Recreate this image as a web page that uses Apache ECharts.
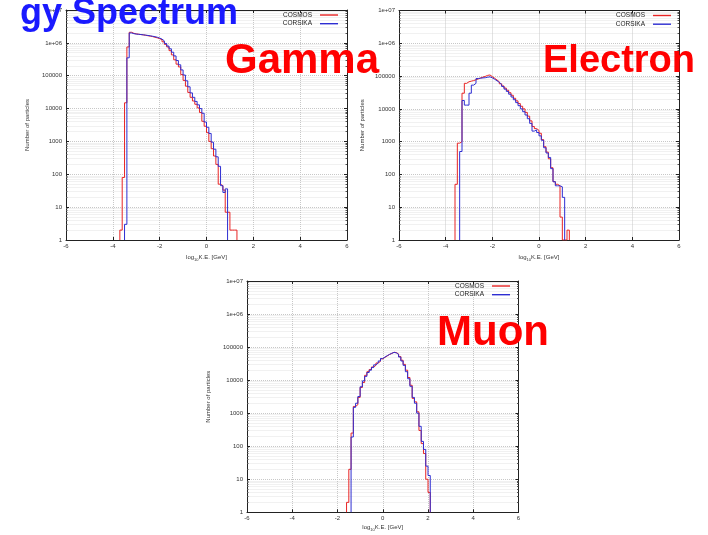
<!DOCTYPE html>
<html>
<head>
<meta charset="utf-8">
<title>Energy Spectrum</title>
<script src="https://cdn.jsdelivr.net/npm/echarts@6/dist/echarts.min.js"></script>
<style>
  html, body { margin: 0; padding: 0; background: #fff; }
  #main { width: 708px; height: 535px; }
</style>
</head>
<body>
<div id="main"></div>
<script>
// histograms, 0.1 wide bins in log10(K.E.), counts per bin
var binWidth = 0.1
var xTicks = [-6, -4, -2, 0, 2, 4, 6]
var yTickLabels = ['1', '10', '100', '1000', '10000', '100000', '1e+06', '1e+07']
var seriesNames = ['COSMOS', 'CORSIKA']

// Gamma
var gammaCosmosStart = -3.7
var gammaCosmos = [2, 80, 15000, 750000, 2100000, 1950000, 1880000, 1830000, 1790000, 1750000,
  1700000, 1650000, 1600000, 1550000, 1480000, 1420000, 1340000, 1250000, 1080000, 900000,
  750000, 580000, 430000, 305000, 225000, 185000, 108000, 72000, 48000, 31000,
  22000, 17000, 13500, 10500, 7600, 4100, 2900, 1850, 1000, 600,
  360, 200, 50, 45, 33, 7, 7, 2, 2, 2]
var gammaCorsikaStart = -3.5
var gammaCorsika = [3, 350000, 2000000, 1900000, 1850000, 1820000, 1790000, 1760000, 1720000, 1680000,
  1640000, 1590000, 1540000, 1480000, 1400000, 1300000, 1150000, 960000, 800000, 660000,
  520000, 400000, 290000, 215000, 150000, 105000, 70000, 46000, 30000, 22000,
  16500, 13000, 10000, 7200, 3900, 2700, 1750, 950, 580, 340,
  175, 45, 28, 36]

// Electron
var electronCosmosStart = -3.6
var electronCosmos = [50, 900, 1000, 30000, 60000, 67000, 70000, 73000, 77000, 82000,
  88000, 93000, 98000, 105000, 108000, 96000, 86000, 76000, 67000, 58000,
  50000, 43000, 37000, 31000, 26000, 21000, 17500, 14500, 12000, 10000,
  7800, 6000, 4300, 2900, 2500, 2200, 1800, 1150, 700, 480,
  300, 160, 60, 50, 45, 5, 1, 1, 2]
var electronCorsikaStart = -3.4
var electronCorsika = [500, 18000, 13000, 13000, 30000, 53000, 60000, 84000, 86000, 88000,
  89000, 92000, 95000, 88000, 80000, 72000, 64000, 56000, 48000, 40000,
  34000, 28000, 23000, 19000, 15500, 12500, 10000, 8200, 6500, 5000,
  3600, 2100, 2300, 1900, 1500, 1100, 650, 450, 330, 150,
  60, 45, 45, 42, 20]

// Muon
var muonCosmosStart = -1.6
var muonCosmos = [2, 20, 250, 1600, 1800, 3000, 6000, 8500, 14000, 18000,
  21000, 25000, 28000, 33000, 37000, 44000, 49000, 54000, 60000, 64000,
  70000, 68000, 62000, 52000, 40000, 30000, 20000, 12000, 7000, 2800,
  2200, 1100, 300, 120, 60, 10, 4]
var muonCorsikaStart = -1.4
var muonCorsika = [190, 1500, 2000, 3200, 6300, 9500, 13000, 17000, 20000, 24000,
  29000, 33000, 38000, 45000, 50000, 55000, 60000, 65000, 69000, 67000,
  60000, 50000, 38000, 28000, 18000, 11000, 6500, 3000, 2000, 1000,
  400, 140, 80, 25, 13]

var panels = [
  { title: 'Gamma', cosmos: [gammaCosmosStart, gammaCosmos], corsika: [gammaCorsikaStart, gammaCorsika] },
  { title: 'Electron', cosmos: [electronCosmosStart, electronCosmos], corsika: [electronCorsikaStart, electronCorsika] },
  { title: 'Muon', cosmos: [muonCosmosStart, muonCosmos], corsika: [muonCorsikaStart, muonCorsika] }
]

var font = 'Liberation Sans, Arial, sans-serif'
var cosmosColor = '#e82424'
var corsikaColor = '#2e2ed2'

var grids = [
  { left: 66, top: 10, width: 281, height: 230 },
  { left: 399, top: 10.5, width: 280, height: 229.5 },
  { left: 247, top: 281, width: 271.5, height: 231.3 }
]
var yNameGap = [36, 34, 36]
var xNameGap = [13.5, 13.5, 11.5]
var legendPos = [
  { right: 370, top: 11.5 },
  { right: 37, top: 12 },
  { right: 198, top: 282.5 }
]

// bin edges -> step line points, closed down to the axis at both ends
function steps (start, counts) {
  var pts = [[start, 1]]
  counts.forEach(function (c, i) {
    pts.push([+(start + i * binWidth).toFixed(2), c])
  })
  pts.push([+(start + counts.length * binWidth).toFixed(2), 1])
  return pts
}

var axisText = { fontSize: 6, color: '#333', fontFamily: font }
var boxLine = { show: true, onZero: false, lineStyle: { color: '#222', width: 1 } }
var majorTick = { inside: true, length: 3, lineStyle: { color: '#222' } }
var minorTick = { show: true, splitNumber: 9, length: 1.5, lineStyle: { color: '#555' } }
var gridLine = { show: true, lineStyle: { color: '#c8c8c8', type: 'dotted', width: 1 } }

var xAxis = []
var yAxis = []
var series = []
var legend = []

grids.forEach(function (g, i) {
  xAxis.push({
    gridIndex: i,
    type: 'value',
    position: 'bottom',
    min: xTicks[0],
    max: xTicks[xTicks.length - 1],
    interval: xTicks[1] - xTicks[0],
    axisLine: boxLine,
    axisTick: majorTick,
    axisLabel: Object.assign({ margin: 3.5 }, axisText),
    splitLine: gridLine,
    name: '{a|log}{s|10}{a|K.E. [GeV]}',
    nameLocation: 'middle',
    nameGap: xNameGap[i],
    nameTextStyle: {
      verticalAlign: 'top',
      rich: {
        a: { fontSize: 6, color: '#333', fontFamily: font },
        s: { fontSize: 4, color: '#333', fontFamily: font, verticalAlign: 'bottom', padding: [4, 0, 0, 0] }
      }
    }
  })
  xAxis.push({
    gridIndex: i,
    type: 'value',
    position: 'top',
    min: xTicks[0],
    max: xTicks[xTicks.length - 1],
    interval: xTicks[1] - xTicks[0],
    axisLine: boxLine,
    axisTick: majorTick,
    axisLabel: { show: false },
    splitLine: { show: false }
  })
  yAxis.push({
    gridIndex: i,
    type: 'log',
    logBase: 10,
    position: 'left',
    min: 1,
    max: 1e7,
    axisLine: boxLine,
    axisTick: majorTick,
    minorTick: minorTick,
    axisLabel: Object.assign({
      margin: 4,
      formatter: function (v) { return yTickLabels[Math.round(Math.log10(v))] }
    }, axisText),
    splitLine: gridLine,
    minorSplitLine: { show: true, lineStyle: { color: '#f1f1f1', width: 1 } },
    name: 'Number of particles',
    nameLocation: 'middle',
    nameGap: yNameGap[i],
    nameTextStyle: axisText
  })
  yAxis.push({
    gridIndex: i,
    type: 'log',
    logBase: 10,
    position: 'right',
    min: 1,
    max: 1e7,
    axisLine: boxLine,
    axisTick: majorTick,
    minorTick: minorTick,
    axisLabel: { show: false },
    splitLine: { show: false }
  })

  var p = panels[i]
  series.push({
    name: seriesNames[0],
    type: 'line',
    step: 'end',
    xAxisIndex: i * 2,
    yAxisIndex: i * 2,
    showSymbol: false,
    symbol: 'none',
    lineStyle: { color: cosmosColor, width: 1 },
    itemStyle: { color: cosmosColor },
    data: steps(p.cosmos[0], p.cosmos[1])
  })
  series.push({
    name: seriesNames[1],
    type: 'line',
    step: 'end',
    xAxisIndex: i * 2,
    yAxisIndex: i * 2,
    showSymbol: false,
    symbol: 'none',
    lineStyle: { color: corsikaColor, width: 1 },
    itemStyle: { color: corsikaColor },
    data: steps(p.corsika[0], p.corsika[1])
  })

  legend.push({
    data: [
      { name: seriesNames[0], itemStyle: { color: cosmosColor, borderWidth: 0 } },
      { name: seriesNames[1], itemStyle: { color: corsikaColor, borderWidth: 0 } }
    ],
    right: legendPos[i].right,
    top: legendPos[i].top,
    orient: 'vertical',
    align: 'right',
    icon: 'rect',
    itemWidth: 18,
    itemHeight: 1.4,
    itemGap: 1.7,
    padding: 0,
    selectedMode: false,
    itemStyle: { borderWidth: 0 },
    textStyle: { fontSize: 6.5, color: '#222', fontFamily: font, lineHeight: 7, padding: [0, 3, 0, 0] }
  })
})

var titleFont = 'bold {s}px ' + font
var graphic = [
  { type: 'text', x: 238, y: 14.5, z: 100, style: { text: 'gy Spectrum', font: titleFont.replace('{s}', 36), fill: '#1a1aff', align: 'right', verticalAlign: 'middle' } },
  { type: 'text', x: 225, y: 61, z: 100, style: { text: panels[0].title, font: titleFont.replace('{s}', 42), fill: '#ff0000', align: 'left', verticalAlign: 'middle' } },
  { type: 'text', x: 543, y: 61.5, z: 100, style: { text: panels[1].title, font: titleFont.replace('{s}', 38), fill: '#ff0000', align: 'left', verticalAlign: 'middle' } },
  { type: 'text', x: 437, y: 333, z: 100, style: { text: panels[2].title, font: titleFont.replace('{s}', 42), fill: '#ff0000', align: 'left', verticalAlign: 'middle' } }
]

var chart = echarts.init(document.getElementById('main'))
chart.setOption({
  animation: false,
  backgroundColor: '#fff',
  grid: grids,
  xAxis: xAxis,
  yAxis: yAxis,
  legend: legend,
  series: series,
  graphic: graphic
})
</script>
</body>
</html>
